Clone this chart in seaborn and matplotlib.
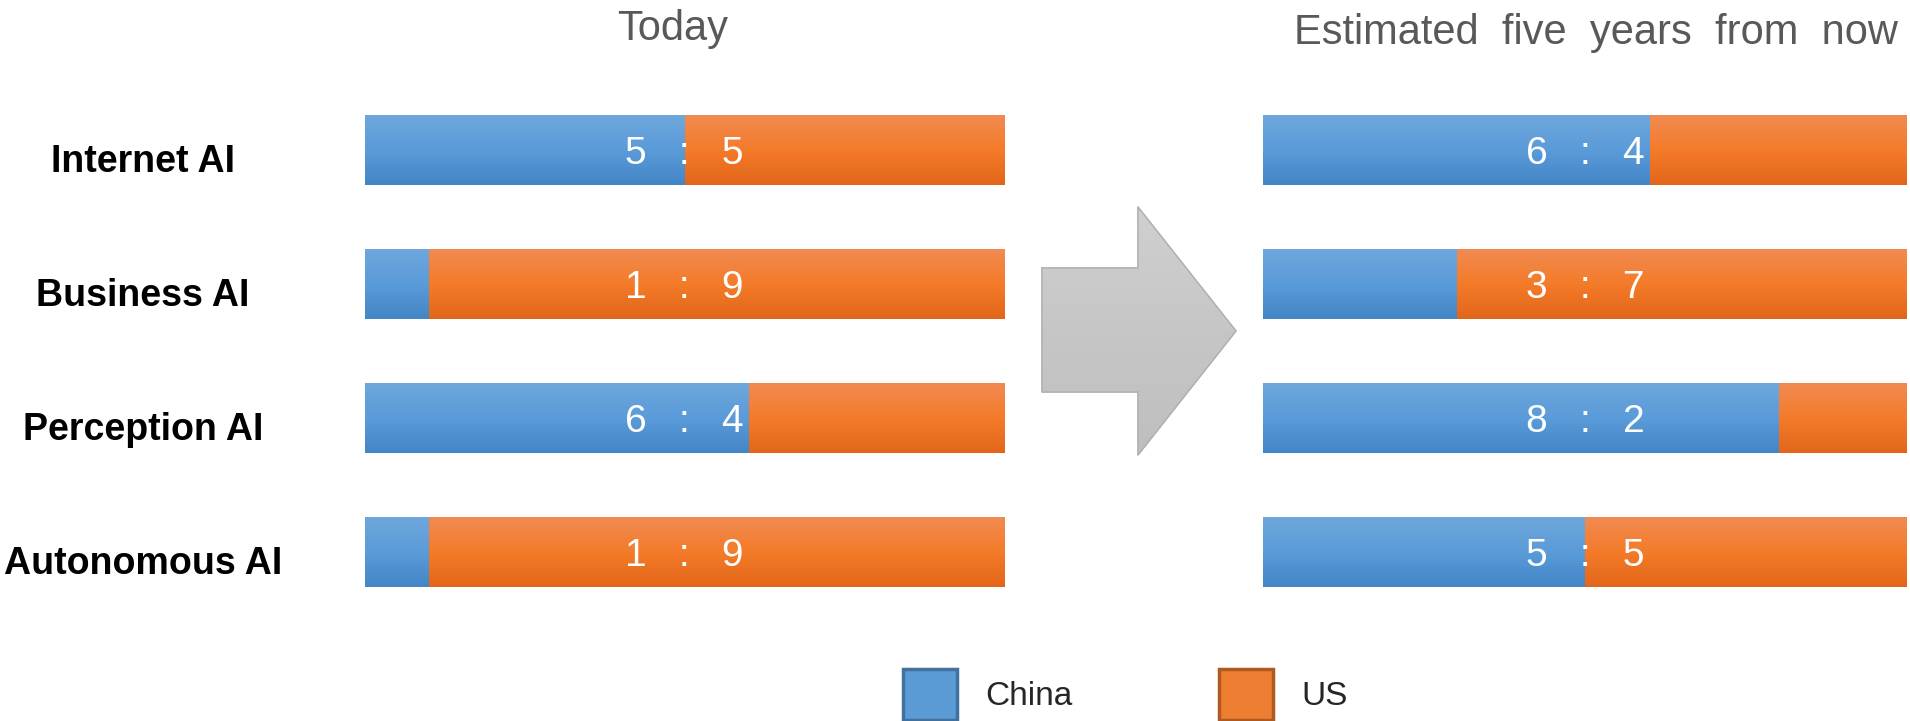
import numpy as np
import pandas as pd
import matplotlib
matplotlib.use("Agg")
import matplotlib.pyplot as plt
import seaborn as sns
from matplotlib.patches import Patch
from matplotlib.colors import LinearSegmentedColormap

# ---------------- data ----------------
categories = ["Internet AI", "Business AI", "Perception AI", "Autonomous AI"]
today_china = [5, 1, 6, 1]
today_us = [5, 9, 4, 9]
future_china = [6, 3, 8, 5]
future_us = [4, 7, 2, 5]
panel_titles = ["Today", "Estimated  five  years  from  now"]
legend_labels = ["China", "US"]

# ---------------- style ----------------
sns.set_theme(style="white")
plt.rcParams['font.family'] = ['Liberation Sans', 'DejaVu Sans']

CHINA = "#5b9bd5"
US = "#ed7d31"
CHINA_GRAD = ["#6fa7dc", "#5a9bd9", "#4386c6"]
US_GRAD = ["#f18b52", "#f47b29", "#e2661a"]
TITLE_COLOR = "#595959"

W, H = 1910, 721
fig = plt.figure(figsize=(W / 100, H / 100), dpi=100)


def px_axes(x0, y0, x1, y1, **kw):
    return fig.add_axes([x0 / W, 1 - y1 / H, (x1 - x0) / W, (y1 - y0) / H], **kw)


def gradient_fill(ax, patches, colors):
    cmap = LinearSegmentedColormap.from_list("g", colors)
    grad = np.linspace(0, 1, 256).reshape(-1, 1)
    for p in patches:
        x, y = p.get_x(), p.get_y()
        w, h = p.get_width(), p.get_height()
        if w <= 0:
            continue
        im = ax.imshow(grad, cmap=cmap, aspect="auto", extent=[x, x + w, y + h, y],
                       origin="upper", interpolation="bilinear", zorder=p.get_zorder() + 0.1)
        im.set_clip_path(p)


def draw_panel(ax, china, us, with_labels):
    df = pd.DataFrame({"category": categories, "China": china, "US": us})
    df["Total"] = df["China"] + df["US"]
    sns.barplot(data=df, x="Total", y="category", orient="h", color=US, saturation=1,
                width=0.522, ax=ax, edgecolor="none", zorder=2)
    n_us = len(ax.patches)
    sns.barplot(data=df, x="China", y="category", orient="h", color=CHINA, saturation=1,
                width=0.522, ax=ax, edgecolor="none", zorder=3)
    us_patches = list(ax.patches[:n_us])
    china_patches = list(ax.patches[n_us:])
    gradient_fill(ax, us_patches, US_GRAD)
    gradient_fill(ax, china_patches, CHINA_GRAD)

    for i, row in df.iterrows():
        ax.annotate(f"{row['China']}   :   {row['US']}", xy=(row["Total"] / 2, i),
                    xytext=(0, -10.4), textcoords="offset points", ha="center", va="baseline",
                    color="white", fontsize=28, zorder=10)
        if with_labels:
            ax.annotate(row["category"], xy=(0, i), xycoords=("axes fraction", "data"),
                        xytext=(-160, -16), textcoords="offset points", ha="center",
                        va="baseline", color="black", fontsize=27, fontweight="bold")

    ax.set_xlim(0, 10)
    ax.set_ylim(len(categories) - 0.5, -0.5)
    ax.set_xticks([])
    ax.set_yticks([])
    ax.set_xlabel("")
    ax.set_ylabel("")
    for s in ax.spines.values():
        s.set_visible(False)
    ax.patch.set_alpha(0)


# arrow (decorative) on a full-figure overlay axes in pixel units
ax_bg = fig.add_axes([0, 0, 1, 1], zorder=0)
ax_bg.set_xlim(0, W)
ax_bg.set_ylim(H, 0)
ax_bg.axis("off")
arrow_x = [1042, 1138, 1138, 1236, 1138, 1138, 1042, 1042]
arrow_y = [268, 268, 207, 331, 455, 392, 392, 268]
arrow_patch = ax_bg.fill(arrow_x, arrow_y, facecolor="#c8c8c8", edgecolor="#b3b3b3", lw=1)[0]
cmap_g = LinearSegmentedColormap.from_list("grey", ["#d0d0d0", "#c6c6c6", "#bfbfbf"])
im = ax_bg.imshow(np.linspace(0, 1, 256).reshape(-1, 1), cmap=cmap_g, aspect="auto",
                  extent=[1042, 1236, 455, 207], origin="upper", zorder=1)
im.set_clip_path(arrow_patch)
ax_bg.plot(arrow_x, arrow_y, color="#b0b0b0", lw=1, zorder=2)
ax_bg.set_xlim(0, W)
ax_bg.set_ylim(H, 0)

ax_left = px_axes(365, 83, 1004, 619, zorder=2)
ax_right = px_axes(1263, 83, 1907, 619, zorder=2)
draw_panel(ax_left, today_china, today_us, True)
draw_panel(ax_right, future_china, future_us, False)

# titles
fig.text(673 / W, 1 - 40 / H, panel_titles[0], ha="center", va="baseline",
         fontsize=30, color=TITLE_COLOR)
fig.text(1596 / W, 1 - 44 / H, panel_titles[1], ha="center", va="baseline",
         fontsize=30, color=TITLE_COLOR)

# legend
handles = [Patch(facecolor=CHINA, edgecolor="#41719c", linewidth=2.5),
           Patch(facecolor=US, edgecolor="#ae5a21", linewidth=2.5)]
fig.legend(handles=handles, labels=legend_labels, loc="lower left",
           bbox_to_anchor=(903 / W, 1 / H), ncol=2, frameon=False, fontsize=24,
           handlelength=1.62, handleheight=2.0, handletextpad=0.85, columnspacing=4.4,
           borderpad=0, borderaxespad=0)

fig.savefig("out.png", dpi=100, facecolor="white")
